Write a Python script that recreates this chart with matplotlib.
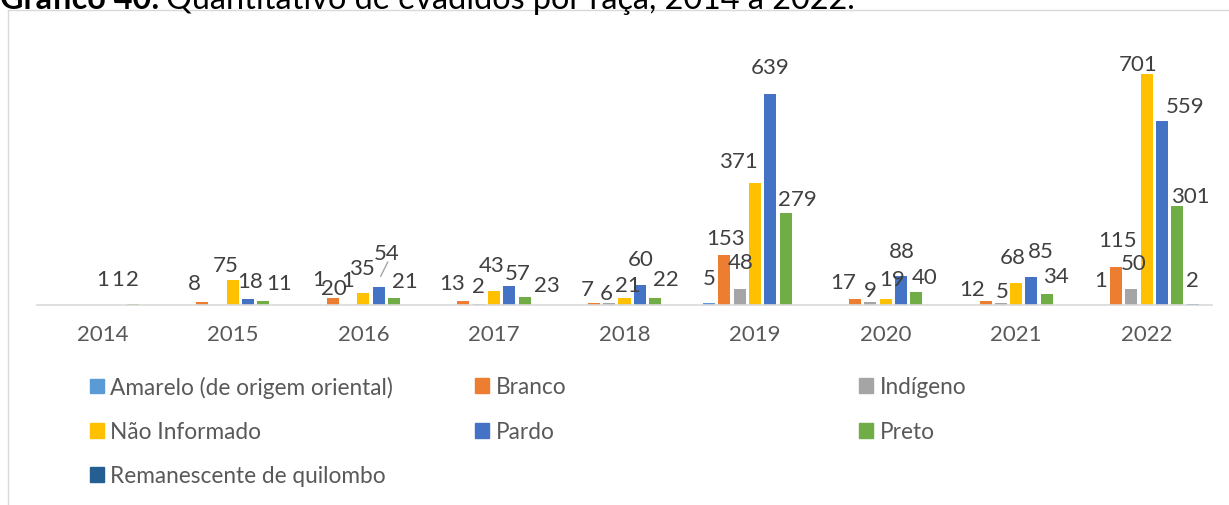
import numpy as np
import matplotlib
matplotlib.use("Agg")
import matplotlib.pyplot as plt
from matplotlib.lines import Line2D
from matplotlib.patches import Patch

plt.rcParams['font.family'] = ['Lato', 'DejaVu Sans']

# Data
years = ['2014', '2015', '2016', '2017', '2018', '2019', '2020', '2021', '2022']
series = ['Amarelo (de origem oriental)', 'Branco', 'Indígeno', 'Não Informado',
          'Pardo', 'Preto', 'Remanescente de quilombo']
amarelo = [0, 0, 1, 0, 0, 5, 0, 0, 1]
branco = [0, 8, 20, 13, 7, 153, 17, 12, 115]
indigeno = [0, 0, 1, 2, 6, 48, 9, 5, 50]
nao_informado = [1, 75, 35, 43, 21, 371, 19, 68, 701]
pardo = [1, 18, 54, 57, 60, 639, 88, 85, 559]
preto = [2, 11, 21, 23, 22, 279, 40, 34, 301]
remanescente = [0, 0, 0, 0, 0, 0, 0, 0, 2]

colors = ['#5B9BD5', '#ED7D31', '#A5A5A5', '#FFC000', '#4472C4', '#70AD47', '#255E91']

# label offsets (pixels: dx, dy above bar top), keyed by (year index, series index)
label_off = {
    (0, 3): (0, 26), (0, 4): (0, 26), (0, 5): (0, 25),
    (1, 1): (-8, 19), (1, 3): (-7, 15), (1, 4): (2, 18), (1, 5): (16, 18),
    (2, 0): (1, 26), (2, 1): (1, 10), (2, 2): (0, 25), (2, 3): (-1, 25), (2, 4): (8, 34), (2, 5): (11, 17),
    (3, 1): (-11, 18), (3, 2): (0, 18), (3, 3): (-2, 26), (3, 4): (8, 13), (3, 5): (22, 12),
    (4, 1): (-7, 14), (4, 2): (-3, 10), (4, 3): (3, 13), (4, 4): (1, 26), (4, 5): (11, 19),
    (5, 0): (0, 25), (5, 1): (1, 17), (5, 2): (1, 27), (5, 3): (-17, 22), (5, 4): (0, 27), (5, 5): (12, 14),
    (6, 1): (-12, 17), (6, 2): (0, 12), (6, 3): (6, 20), (6, 4): (1, 25), (6, 5): (8, 15),
    (7, 1): (-13, 12), (7, 2): (1, 12), (7, 3): (-3, 26), (7, 4): (9, 26), (7, 5): (9, 18),
    (8, 0): (0, 25), (8, 1): (1, 27), (8, 2): (2, 26), (8, 3): (-9, 10), (8, 4): (23, 15), (8, 5): (13, 10), (8, 6): (0, 24),
}

W, H = 1229, 506
fig = plt.figure(figsize=(W / 100, H / 100), dpi=100)
ax = fig.add_axes([37 / W, (H - 306) / H, 1175 / W, 266 / H])

data = [amarelo, branco, indigeno, nao_informado, pardo, preto, remanescente]
x = np.arange(len(years))
step = 0.1172
width = 0.092
for j, vals in enumerate(data):
    xs = x + (j - 3) * step
    ax.bar(xs, vals, width=width, color=colors[j], label=series[j])
    for i, v in enumerate(vals):
        if v == 0:
            continue
        dx, dy = label_off.get((i, j), (0, 14))
        ax.annotate(str(v), xy=(xs[i], v), xytext=(dx * 0.72, dy * 0.72),
                    textcoords='offset points', ha='center', va='center',
                    fontsize=16, color='#404040')

# leader line for the 2016 "Pardo" label
ax.plot([2 + step + 2 / 130.5, 2 + step + 9 / 130.5], [54 + 11 / 0.33, 54 + 25 / 0.33],
        color='#A6A6A6', lw=1)

ax.set_xlim(-0.5, 8.5)
ax.set_ylim(0, 266 / 0.33)
ax.set_xticks(x)
ax.set_xticklabels(years, fontsize=16, color='#595959')
ax.tick_params(axis='x', length=0, pad=14)
ax.set_yticks([])
for s in ['top', 'right', 'left']:
    ax.spines[s].set_visible(False)
ax.spines['bottom'].set_color('#D9D9D9')
ax.spines['bottom'].set_linewidth(1.2)

# legend: 3 columns, filled row by row like the original
col_x = [90, 475, 859]
row_y = [388, 433, 477]
for k, (name, c) in enumerate(zip(series, colors)):
    r, cidx = divmod(k, 3)
    fig.legend([Patch(color=c)], [name], loc='center left',
               bbox_to_anchor=(col_x[cidx] / W, 1 - row_y[r] / H),
               frameon=False, fontsize=16.3, labelcolor='#595959',
               handlelength=0.6, handleheight=0.6, handletextpad=0.3,
               borderpad=0, borderaxespad=0)

# chart border (partly outside the picture)
fig.add_artist(Line2D([8 / W, 1], [1 - 11 / H, 1 - 11 / H], color='#D9D9D9', lw=1))
fig.add_artist(Line2D([8 / W, 8 / W], [0, 1 - 11 / H], color='#D9D9D9', lw=1))

# title, cut off at the top edge
t1 = fig.text(0, 1 - 9 / H, 'Gráfico 40:', fontsize=23.3, fontweight='bold',
              va='baseline', color='black')
fig.canvas.draw()
bb = t1.get_window_extent()
fig.text(bb.x1 / W + 6 / W, 1 - 9 / H, 'Quantitativo de evadidos por raça, 2014 a 2022.',
         fontsize=23.3, va='baseline', color='black')

fig.savefig('out.png', dpi=100)
